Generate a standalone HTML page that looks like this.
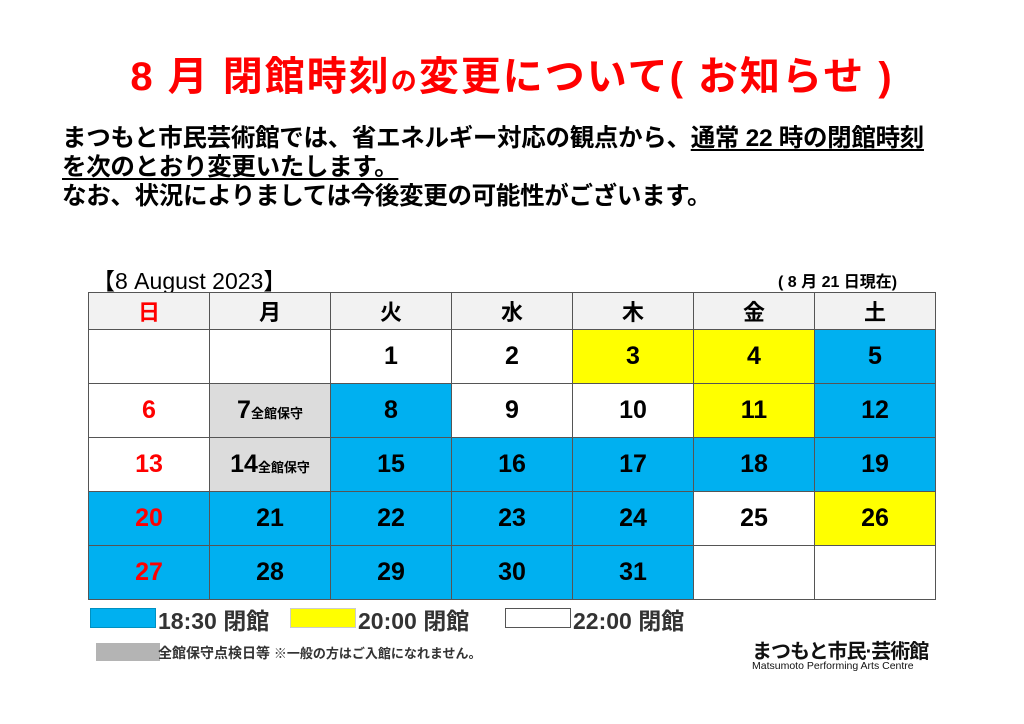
<!DOCTYPE html>
<html><head><meta charset="utf-8"><style>
body{margin:0;width:1024px;height:724px;background:#fff;position:relative;overflow:hidden;font-family:"Liberation Sans","Noto Sans CJK JP",sans-serif;}
.a{position:absolute;white-space:nowrap;}
#title{left:0;width:1024px;text-align:center;top:44px;font-size:40px;font-weight:bold;color:#ff0000;letter-spacing:2px;}
.p{left:62px;font-size:24.5px;font-weight:bold;color:#000;letter-spacing:-0.3px;}
u{text-decoration-thickness:2px;text-underline-offset:3px;}
table{position:absolute;left:88px;top:292px;border-collapse:collapse;}
td{width:120px;border:1.5px solid #555;text-align:center;font-weight:bold;font-size:25px;padding:0;}
tr.h td{height:36px;background:#f2f2f2;font-size:22px;}
tr.d td{height:53px;}
.b{background:#00b0f0}.y{background:#ffff00}.g{background:#dcdcdc}.r{color:#ff0000}
.s{font-size:13px;}
.lg{font-size:23px;font-weight:bold;color:#333;top:602px;}
.sw{position:absolute;height:18px;top:608px;width:64px;}
</style></head><body>
<div class="a" id="title">8 月  閉館時刻<span style="font-size:26px">の</span>変更について( お知らせ )</div>
<div class="a p" style="top:119px">まつもと市民芸術館では、省エネルギー対応の観点から、<u>通常 22 時の閉館時刻</u></div>
<div class="a p" style="top:148px"><u>を次のとおり変更いたします。</u></div>
<div class="a p" style="top:177px">なお、状況によりましては今後変更の可能性がございます。</div>
<div class="a" style="left:92px;top:262px;font-size:23px;">【8 August  2023】</div>
<div class="a" style="left:778px;top:268px;font-size:16px;font-weight:bold;">( 8 月 21 日現在)</div>
<table>
<tr class="h"><td class="r">日</td><td>月</td><td>火</td><td>水</td><td>木</td><td>金</td><td>土</td></tr>
<tr class="d"><td></td><td></td><td>1</td><td>2</td><td class="y">3</td><td class="y">4</td><td class="b">5</td></tr>
<tr class="d"><td class="r">6</td><td class="g">7<span class="s">全館保守</span></td><td class="b">8</td><td>9</td><td>10</td><td class="y">11</td><td class="b">12</td></tr>
<tr class="d"><td class="r">13</td><td class="g">14<span class="s">全館保守</span></td><td class="b">15</td><td class="b">16</td><td class="b">17</td><td class="b">18</td><td class="b">19</td></tr>
<tr class="d"><td class="b r">20</td><td class="b">21</td><td class="b">22</td><td class="b">23</td><td class="b">24</td><td>25</td><td class="y">26</td></tr>
<tr class="d"><td class="b r">27</td><td class="b">28</td><td class="b">29</td><td class="b">30</td><td class="b">31</td><td></td><td></td></tr>
</table>
<div class="sw" style="left:90px;background:#00b0f0;border:1px solid #0090c0"></div>
<div class="a lg" style="left:158px">18:30 閉館</div>
<div class="sw" style="left:290px;background:#ffff00;border:1px solid #ccc"></div>
<div class="a lg" style="left:358px">20:00 閉館</div>
<div class="sw" style="left:505px;background:#fff;border:1px solid #555"></div>
<div class="a lg" style="left:573px">22:00 閉館</div>
<div class="sw" style="left:96px;top:643px;background:#b4b4b4"></div>
<div class="a" style="left:158px;top:643px;font-size:14px;font-weight:bold;color:#333">全館保守点検日等 <span style="font-size:13px">※一般の方はご入館になれません。</span></div>
<div class="a" style="left:752px;top:635px;font-size:20px;font-weight:bold;color:#111;letter-spacing:-1px">まつもと市民·芸術館</div>
<div class="a" style="left:752px;top:660px;font-size:10.5px;color:#111">Matsumoto Performing Arts Centre</div>
</body></html>
